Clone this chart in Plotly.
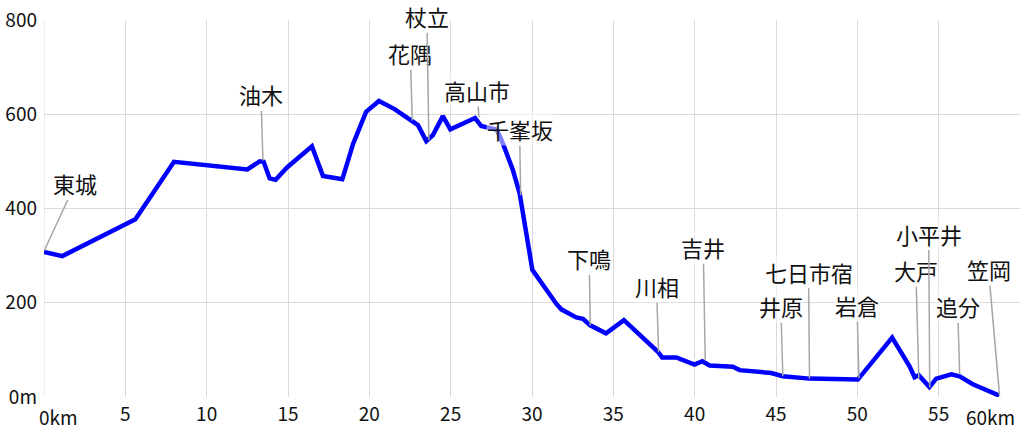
import plotly.graph_objects as go

# 距離(km)と標高(m)
dist_km = [0.0, 1.13, 5.62, 7.99, 12.5, 13.26, 13.5, 13.87, 14.24, 14.94,
           16.47, 17.15, 18.34, 19.0, 19.8, 20.59, 21.55, 22.99, 23.5, 23.91,
           24.52, 24.98, 26.5, 26.88, 27.84, 28.21, 28.83, 29.24, 29.65, 30.02,
           31.49, 31.8, 32.72, 33.13, 33.58, 34.55, 35.65, 37.74, 38.0, 38.87,
           39.99, 40.47, 40.92, 42.35, 42.76, 44.71, 45.42, 47.06, 50.03, 52.14,
           53.21, 53.52, 53.78, 54.43, 54.85, 55.78, 56.29, 57.1, 58.73]
elev_m = [308, 299, 377, 499, 483, 500, 499, 464, 461, 487,
          532, 469, 462, 537, 605, 628, 611, 577, 543, 556,
          596, 568, 592, 575, 567, 538, 481, 432, 347, 270,
          198, 186, 169, 166, 152, 135, 163, 96, 84, 84,
          69, 76, 67, 64, 57, 51, 44, 39, 37, 126,
          65, 42, 46, 21, 39, 48, 44, 27, 3]

# 地名ラベル: 名前, 距離, 標高, テキスト位置のずれ(px)
place_names = ['東城', '油木', '花隅', '杖立', '高山市', '千峯坂', '下鳴', '川相', '吉井',
               '井原', '七日市宿', '岩倉', '大戸', '小平井', '追分', '笠岡']
place_km = [0.02, 13.46, 22.64, 23.66, 26.74, 29.3, 33.58, 37.78, 40.65,
            45.42, 47.06, 50.1, 53.78, 54.45, 56.29, 58.74]
place_m = [311, 502, 587, 545, 594, 428, 152, 95, 78,
           44, 39, 40, 40, 20, 48, 4]
label_dx = [31, -2, -2, -2, -2, -1, -1, -2, -2, -2, -1, -2, -3, -1, -2, -11]
label_dy = [-67, -66, -67, -124, -27, -66, -67, -66, -113, -70, -107, -73, -108, -154, -68, -126]

x_ticks = [5, 10, 15, 20, 25, 30, 35, 40, 45, 50, 55]
y_ticks = [0, 200, 400, 600, 800]
y_ticktext = ['0m', '200', '400', '600', '800']

fig = go.Figure()
fig.add_trace(go.Scatter(
    x=dist_km, y=elev_m, mode='lines',
    line=dict(color='#0000ff', width=4.5),
    hoverinfo='skip', showlegend=False
))

annotations = []
for name, km, m, dx, dy in zip(place_names, place_km, place_m, label_dx, label_dy):
    annotations.append(dict(
        x=km, y=m, xref='x', yref='y', text=name,
        showarrow=True, arrowhead=0, arrowwidth=1.5, arrowcolor='#a6a6a6',
        ax=dx, ay=dy,
        font=dict(family='Noto Sans CJK JP', size=22, color='#111111'),
        bgcolor='rgba(255,255,255,0.5)', borderpad=0
    ))

# 両端の軸ラベル
tick_font = dict(family='Noto Sans CJK JP', size=19, color='#111111')
annotations.append(dict(x=0, y=0, xref='x', yref='paper', text='0km', showarrow=False,
                        xanchor='left', yanchor='top', xshift=-7, yshift=-4, font=tick_font))
annotations.append(dict(x=60, y=0, xref='x', yref='paper', text='60km', showarrow=False,
                        xanchor='right', yanchor='top', xshift=-3, yshift=-4, font=tick_font))

fig.update_layout(
    width=1024, height=430,
    margin=dict(l=44, r=4, t=20, b=33),
    paper_bgcolor='white', plot_bgcolor='white',
    annotations=annotations,
    xaxis=dict(range=[0, 60], tickvals=x_ticks, ticktext=[str(v) for v in x_ticks],
               showgrid=True, gridcolor='#dadada', gridwidth=1, zeroline=False,
               showline=False, tickfont=tick_font, ticks='', ticklabelstandoff=4,
               fixedrange=True),
    yaxis=dict(range=[0, 800], tickvals=y_ticks, ticktext=y_ticktext,
               showgrid=True, gridcolor='#dadada', gridwidth=1, zeroline=False,
               showline=False, tickfont=tick_font, ticks='', ticklabelstandoff=6,
               fixedrange=True),
)

# 左端の縦グリッド線(0km)
fig.add_shape(type='line', xref='x', yref='paper', x0=0, x1=0, y0=0, y1=1,
              line=dict(color='#dadada', width=1), layer='below')

fig.write_html("out.html", config={'displayModeBar': False},
               post_script="document.body.style.margin='0';")
